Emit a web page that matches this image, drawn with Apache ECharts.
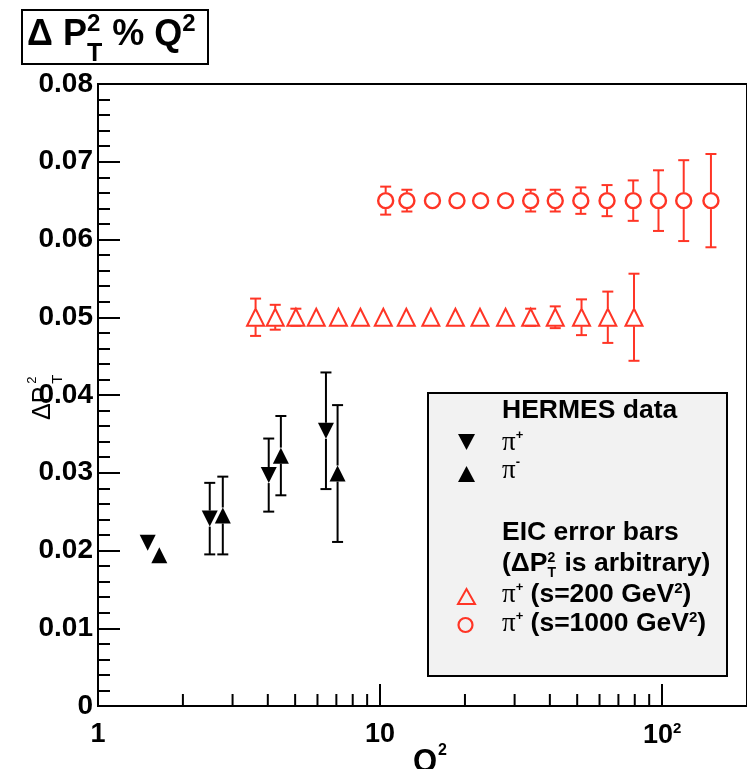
<!DOCTYPE html>
<html><head><meta charset="utf-8">
<script src="https://cdn.jsdelivr.net/npm/echarts@6/dist/echarts.min.js"></script>
<style>html,body{margin:0;padding:0;background:#fff}#c{width:747px;height:769px}</style>
</head><body><div id="c"></div>
<script>
// ---- data ----
const hermesPiPlusQ2  = [1.50, 2.49, 4.03, 6.43];
const hermesPiPlusVal = [0.0210, 0.0241, 0.0297, 0.0354];
const hermesPiPlusErr = [0.0005, 0.0046, 0.0047, 0.0075];

const hermesPiMinusQ2  = [1.65, 2.77, 4.45, 7.07];
const hermesPiMinusVal = [0.0194, 0.0245, 0.0322, 0.0299];
const hermesPiMinusErr = [0.0005, 0.0050, 0.0051, 0.0088];

const eic200Q2  = [3.62, 4.25, 5.03, 5.94, 7.12, 8.52, 10.27, 12.39, 15.14, 18.50, 22.61, 27.86, 34.2, 41.8, 51.8, 64.2, 79.5];
const eic200Val = [0.05, 0.05, 0.05, 0.05, 0.05, 0.05, 0.05, 0.05, 0.05, 0.05, 0.05, 0.05, 0.05, 0.05, 0.05, 0.05, 0.05];
const eic200Err = [0.0024, 0.0016, 0.0011, 0.0007, 0.0007, 0.0007, 0.0007, 0.0007, 0.0007, 0.0007, 0.0007, 0.0007, 0.0011, 0.0014, 0.0023, 0.0033, 0.0056];

const eic1000Q2  = [10.47, 12.45, 15.34, 18.74, 22.73, 27.86, 34.2, 41.8, 51.5, 63.8, 79.0, 97.1, 119.3, 149.0];
const eic1000Val = [0.065, 0.065, 0.065, 0.065, 0.065, 0.065, 0.065, 0.065, 0.065, 0.065, 0.065, 0.065, 0.065, 0.065];
const eic1000Err = [0.0018, 0.0014, 0.0007, 0.0007, 0.0007, 0.0007, 0.0014, 0.0014, 0.0017, 0.0020, 0.0026, 0.0039, 0.0052, 0.0060];

const xTickValues = [1, 10, 100];
const xTickLabels = ['1', '10', '{b|10}{s|2}'];
const xMinorTicks = [2, 3, 4, 5, 6, 7, 8, 9, 20, 30, 40, 50, 60, 70, 80, 90];

// ---- helpers ----
const RED = '#ff3526';
const SANS = '"Liberation Sans", Arial, sans-serif';
const SERIF = '"Liberation Serif", "Times New Roman", serif';
const mctx = document.createElement('canvas').getContext('2d');
function fontStr(s) { return (s.weight || 'normal') + ' ' + s.size + 'px ' + (s.family || SANS); }
function tw(s) { mctx.font = fontStr(s); return mctx.measureText(s.t).width; }
function txt(x, base, s, fill) {
  return {
    type: 'text', x: x, y: base - 0.35 * s.size, z: 110,
    style: { text: s.t, font: fontStr(s), fill: fill || '#000',
      textAlign: 'left', textVerticalAlign: 'middle' }
  };
}
function runs(x, base, segs, out) {
  let cx = x;
  segs.forEach(s => {
    if (s.stack) {
      s.stack.forEach(p => out.push(txt(cx, base + (p.dy || 0), p)));
      cx += Math.max.apply(null, s.stack.map(tw)) + (s.after || 0);
    } else {
      out.push(txt(cx + (s.dx || 0), base + (s.dy || 0), s));
      cx += (s.dx || 0) + tw(s);
    }
  });
  return out;
}

function errRender(half, color) {
  return function (params, api) {
    const x = api.value(0), y = api.value(1), e = api.value(2);
    const c = api.coord([x, y]), t = api.coord([x, y + e]), b = api.coord([x, y - e]);
    const d = c[1] - t[1];
    const cw = 5.5;
    const st = { stroke: color, lineWidth: 2 };
    const ch = [];
    if (d >= half - 1) {
      ch.push({ type: 'line', shape: { x1: c[0] - cw, y1: t[1], x2: c[0] + cw, y2: t[1] }, style: st });
      ch.push({ type: 'line', shape: { x1: c[0] - cw, y1: b[1], x2: c[0] + cw, y2: b[1] }, style: st });
    }
    if (d > half) {
      ch.push({ type: 'line', shape: { x1: c[0], y1: c[1] - half, x2: c[0], y2: t[1] }, style: st });
      ch.push({ type: 'line', shape: { x1: c[0], y1: c[1] + half, x2: c[0], y2: b[1] }, style: st });
    }
    return { type: 'group', children: ch };
  };
}
function zip3(a, b, c) { return a.map((v, i) => [v, b[i], c[i]]); }
function zip2(a, b) { return a.map((v, i) => [v, b[i]]); }

// ---- graphics (title, axis title, legend) ----
const g = [];
const LF = 26.5;
// title box
g.push({ type: 'rect', z: 100, shape: { x: 22, y: 10, width: 186, height: 54 },
  style: { fill: '#fff', stroke: '#000', lineWidth: 2 } });
runs(27, 48, [
  { t: 'Δ P', size: 36, weight: 'bold' },
  { stack: [{ t: '2', size: 24, weight: 'bold', dy: -15 }, { t: 'T', size: 25, weight: 'bold', dy: 15 }] },
  { t: ' % Q', size: 36, weight: 'bold' },
  { t: '2', size: 24, weight: 'bold', dy: -15 }
], g);

// rotated y-axis title
const yName = [];
const dp = { t: 'ΔP', size: 25 };
yName.push(txt(0, 0, dp));
const dpw = tw(dp);
yName.push(txt(dpw + 3, -15, { t: '2', size: 13 }));
yName.push(txt(dpw + 3, 11, { t: 'T', size: 15 }));
g.push({ type: 'group', x: 52, y: 420, rotation: Math.PI / 2, z: 110, children: yName });

// x-axis title
runs(413, 773, [{ t: 'Q', size: 31, weight: 'bold' }, { t: '2', size: 16, weight: 'bold', dy: -17, dx: 1 }], g);

// legend box
g.push({ type: 'rect', z: 100, shape: { x: 428, y: 393, width: 299, height: 283 },
  style: { fill: '#f2f2f2', stroke: '#000', lineWidth: 2 } });
g.push({ type: 'polygon', z: 110, shape: { points: [[458, 434], [475, 434], [466.5, 450]] }, style: { fill: '#000' } });
g.push({ type: 'polygon', z: 110, shape: { points: [[458, 482], [475, 482], [466.5, 466]] }, style: { fill: '#000' } });
g.push({ type: 'polygon', z: 110, shape: { points: [[458, 604], [475, 604], [466.5, 589]] }, style: { fill: 'none', stroke: RED, lineWidth: 2 } });
g.push({ type: 'circle', z: 110, shape: { cx: 465.5, cy: 625, r: 7 }, style: { fill: 'none', stroke: RED, lineWidth: 2.2 } });

runs(502, 420, [{ t: 'HERMES data', size: LF, weight: 'bold' }], g);
runs(502, 452, [{ t: 'π', size: 27, family: SERIF }, { t: '+', size: 13, weight: 'bold', dy: -12 }], g);
runs(502, 480, [{ t: 'π', size: 27, family: SERIF }, { t: '-', size: 13, weight: 'bold', dy: -13 }], g);
runs(502, 542, [{ t: 'EIC error bars', size: LF, weight: 'bold' }], g);
runs(502, 573, [
  { t: '(ΔP', size: LF, weight: 'bold' },
  { stack: [{ t: '2', size: 14, weight: 'bold', dy: -10 }, { t: 'T', size: 14, weight: 'bold', dy: 5 }], after: 1 },
  { t: ' is arbitrary)', size: LF, weight: 'bold' }
], g);
runs(502, 604, [
  { t: 'π', size: 27, family: SERIF }, { t: '+', size: 13, weight: 'bold', dy: -12 },
  { t: ' (s=200 GeV', size: LF, weight: 'bold' }, { t: '2', size: 15, weight: 'bold', dy: -10 },
  { t: ')', size: LF, weight: 'bold' }
], g);
runs(502, 633, [
  { t: 'π', size: 27, family: SERIF }, { t: '+', size: 13, weight: 'bold', dy: -12 },
  { t: ' (s=1000 GeV', size: LF, weight: 'bold' }, { t: '2', size: 15, weight: 'bold', dy: -10 },
  { t: ')', size: LF, weight: 'bold' }
], g);

// ---- chart ----
const chart = echarts.init(document.getElementById('c'), null, { renderer: 'canvas' });
chart.setOption({
  animation: false,
  backgroundColor: '#fff',
  grid: { left: 98, top: 84, width: 660, height: 622, show: true, borderColor: '#000', borderWidth: 2, backgroundColor: '#fff' },
  xAxis: {
    type: 'log', logBase: 10, min: 1, max: 200,
    axisLine: { lineStyle: { color: '#000', width: 2 } },
    axisTick: { inside: true, length: 22, lineStyle: { color: '#000', width: 2 } },
    splitLine: { show: false },
    axisLabel: {
      margin: 15, color: '#000', fontSize: 27, fontWeight: 'bold', fontFamily: SANS,
      showMaxLabel: false,
      formatter: function (v) {
        const i = xTickValues.indexOf(Math.round(v));
        return i >= 0 ? xTickLabels[i] : '';
      },
      rich: {
        b: { fontSize: 27, fontWeight: 'bold', fontFamily: SANS, color: '#000', lineHeight: 30 },
        s: { fontSize: 15, fontWeight: 'bold', fontFamily: SANS, color: '#000', lineHeight: 17, verticalAlign: 'top' }
      }
    }
  },
  yAxis: {
    type: 'value', min: 0, max: 0.08, interval: 0.01,
    axisLine: { show: true, lineStyle: { color: '#000', width: 2 } },
    axisTick: { inside: true, length: 22, lineStyle: { color: '#000', width: 2 } },
    minorTick: { show: true, splitNumber: 5, length: 12, lineStyle: { color: '#000', width: 2 } },
    splitLine: { show: false },
    axisLabel: {
      margin: 5, color: '#000', fontSize: 28, fontWeight: 'bold', fontFamily: SANS,
      formatter: v => (v === 0 ? '0' : v.toFixed(2))
    }
  },
  series: [
    { type: 'custom', name: 'xminor', silent: true, clip: false, z: 5,
      data: xMinorTicks.map(v => [v, 0]), encode: { x: 0, y: 1 },
      renderItem: function (params, api) {
        const p = api.coord([api.value(0), 0]);
        return { type: 'line', shape: { x1: p[0], y1: p[1], x2: p[0], y2: p[1] - 12 }, style: { stroke: '#000', lineWidth: 2 } };
      } },
    { type: 'custom', silent: true, z: 2, data: zip3(hermesPiPlusQ2, hermesPiPlusVal, hermesPiPlusErr), encode: { x: 0, y: 1 }, renderItem: errRender(8, '#000') },
    { type: 'custom', silent: true, z: 2, data: zip3(hermesPiMinusQ2, hermesPiMinusVal, hermesPiMinusErr), encode: { x: 0, y: 1 }, renderItem: errRender(8, '#000') },
    { type: 'custom', silent: true, z: 2, data: zip3(eic200Q2, eic200Val, eic200Err), encode: { x: 0, y: 1 }, renderItem: errRender(9, RED) },
    { type: 'custom', silent: true, z: 2, data: zip3(eic1000Q2, eic1000Val, eic1000Err), encode: { x: 0, y: 1 }, renderItem: errRender(8.5, RED) },
    { type: 'scatter', name: 'HERMES π+', z: 3, symbol: 'triangle', symbolRotate: 180, symbolSize: 16,
      itemStyle: { color: '#000', opacity: 1 }, data: zip2(hermesPiPlusQ2, hermesPiPlusVal) },
    { type: 'scatter', name: 'HERMES π-', z: 3, symbol: 'triangle', symbolSize: 16,
      itemStyle: { color: '#000', opacity: 1 }, data: zip2(hermesPiMinusQ2, hermesPiMinusVal) },
    { type: 'scatter', name: 'EIC s=200', z: 3, symbol: 'triangle', symbolSize: 17,
      itemStyle: { color: 'rgba(255,255,255,0)', borderColor: RED, borderWidth: 2, opacity: 1 }, data: zip2(eic200Q2, eic200Val) },
    { type: 'scatter', name: 'EIC s=1000', z: 3, symbol: 'circle', symbolSize: 15,
      itemStyle: { color: 'rgba(255,255,255,0)', borderColor: RED, borderWidth: 2.4, opacity: 1 }, data: zip2(eic1000Q2, eic1000Val) }
  ],
  graphic: g
});
</script>
</body></html>
